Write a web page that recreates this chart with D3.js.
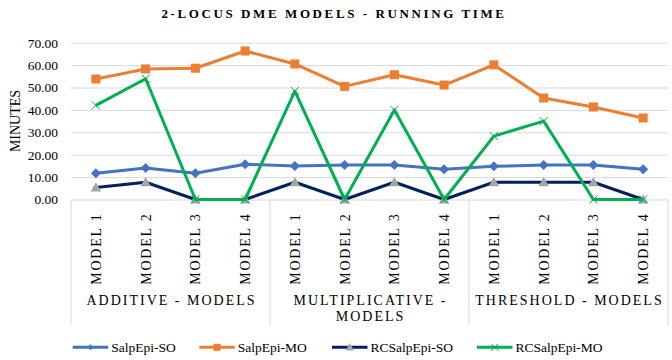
<!DOCTYPE html>
<html>
<head>
<meta charset="utf-8">
<script src="https://cdn.jsdelivr.net/npm/d3@7"></script>
<style>
  html, body { margin: 0; padding: 0; background: #fff; }
  svg { display: block; }
  text { font-family: "Liberation Serif", "Times New Roman", serif; fill: #000; }
</style>
</head>
<body>
<svg id="chart" width="672" height="360"></svg>
<script>
const categories = ["MODEL 1","MODEL 2","MODEL 3","MODEL 4","MODEL 1","MODEL 2","MODEL 3","MODEL 4","MODEL 1","MODEL 2","MODEL 3","MODEL 4"];
const groups = [["ADDITIVE - MODELS"], ["MULTIPLICATIVE -", "MODELS"], ["THRESHOLD - MODELS"]];
const seriesNames = ["SalpEpi-SO", "SalpEpi-MO", "RCSalpEpi-SO", "RCSalpEpi-MO"];
const salpEpiSO   = [11.7, 14.1, 11.7, 15.7, 15.0, 15.4, 15.4, 13.5, 14.8, 15.4, 15.4, 13.5];
const salpEpiMO   = [53.8, 58.3, 58.6, 66.3, 60.5, 50.5, 55.7, 51.1, 60.1, 45.3, 41.3, 36.4];
const rcSalpEpiSO = [5.4, 7.7, 0, 0, 7.7, 0, 7.7, 0, 7.7, 7.7, 7.7, 0];
const rcSalpEpiMO = [42.0, 53.9, 0, 0, 48.4, 0, 40.0, 0, 28.3, 35.0, 0, 0];
const yTicks = [0, 10, 20, 30, 40, 50, 60, 70];
const title = "2-LOCUS DME MODELS - RUNNING TIME";
const yTitle = "MINUTES";

const series = [
  {name: seriesNames[0], values: salpEpiSO,   line: "#4472C4", marker: "diamond",  fill: "#4472C4"},
  {name: seriesNames[1], values: salpEpiMO,   line: "#ED7D31", marker: "square",   fill: "#ED7D31"},
  {name: seriesNames[2], values: rcSalpEpiSO, line: "#002060", marker: "triangle", fill: "#A5A5A5"},
  {name: seriesNames[3], values: rcSalpEpiMO, line: "#00B050", marker: "x",        fill: "#00B050"}
];

const svg = d3.select("#chart");
const L = 71, R = 668, T = 42.7, B = 199.5;

const x = d3.scaleBand().domain(d3.range(categories.length)).range([L, R]);
const y = d3.scaleLinear().domain([0, 70]).range([B, T]);

// title
svg.append("text").attr("x", 334).attr("y", 18).attr("text-anchor", "middle")
  .style("font-size", "13px").style("font-weight", "bold").style("letter-spacing", "2.6px")
  .text(title);

// y axis with gridlines
const yAxis = svg.append("g").attr("transform", `translate(${L},0)`)
  .call(d3.axisLeft(y).tickValues(yTicks).tickFormat(d3.format(".2f"))
    .tickSize(-(R - L)).tickPadding(13));
yAxis.select(".domain").remove();
yAxis.selectAll(".tick line").attr("stroke", "#d9d9d9").attr("stroke-width", 1);
yAxis.selectAll(".tick text").style("font-size", "13.5px").style("font-family", "'Liberation Serif', serif");

// y title
svg.append("text").attr("transform", "translate(20,121) rotate(-90)").attr("text-anchor", "middle")
  .style("font-size", "14px").text(yTitle);

// group separators
const nGroup = 4;
const seps = d3.range(groups.length + 1).map(i => i < groups.length ? x(i * nGroup) : R);
svg.selectAll("line.sep").data(seps).join("line").attr("class", "sep")
  .attr("x1", d => d).attr("x2", d => d).attr("y1", B).attr("y2", 325.5)
  .attr("stroke", "#d9d9d9").attr("stroke-width", 1);

// x axis category labels
const xAxis = svg.append("g").attr("transform", `translate(0,${B})`)
  .call(d3.axisBottom(x).tickSize(0).tickFormat(i => categories[i]));
xAxis.select(".domain").remove();
xAxis.selectAll(".tick text")
  .attr("transform", "rotate(-90)")
  .attr("x", -13).attr("y", 0).attr("dy", "0.35em")
  .attr("text-anchor", "end")
  .style("font-size", "14px").style("letter-spacing", "1.8px")
  .style("font-family", "'Liberation Serif', serif");

// group labels
groups.forEach((g, i) => {
  const cx = (seps[i] + seps[i + 1]) / 2;
  g.forEach((line, j) => {
    svg.append("text").attr("x", cx + 1).attr("y", 305 + j * 16).attr("text-anchor", "middle")
      .style("font-size", "14px").style("letter-spacing", "2px").text(line);
  });
});

// lines and markers
const lineGen = d3.line().x((d, i) => x(i) + x.bandwidth() / 2).y(d => y(d));

function drawMarker(g, type, cx, cy, s, color) {
  if (type === "diamond") {
    g.append("path").attr("d", `M${cx},${cy - s}L${cx + s},${cy}L${cx},${cy + s}L${cx - s},${cy}Z`).attr("fill", color);
  } else if (type === "square") {
    g.append("rect").attr("x", cx - s).attr("y", cy - s).attr("width", 2 * s).attr("height", 2 * s).attr("fill", color);
  } else if (type === "triangle") {
    g.append("path").attr("d", `M${cx},${cy - s * 1.05}L${cx + s * 1.05},${cy + s * 0.8}L${cx - s * 1.05},${cy + s * 0.8}Z`).attr("fill", color);
  } else if (type === "x") {
    g.append("path").attr("d", `M${cx - s},${cy - s}L${cx + s},${cy + s}M${cx - s},${cy + s}L${cx + s},${cy - s}`)
      .attr("stroke", color).attr("stroke-width", 1).attr("fill", "none");
  }
}

const plot = svg.append("g");
series.forEach(s => {
  const g = plot.append("g");
  g.append("path").datum(s.values).attr("d", lineGen).attr("fill", "none")
    .attr("stroke", s.line).attr("stroke-width", 3).attr("stroke-linejoin", "round");
  const size = s.marker === "square" ? 4.5 : (s.marker === "diamond" ? 5 : (s.marker === "triangle" ? 5 : 4));
  s.values.forEach((v, i) => drawMarker(g, s.marker, x(i) + x.bandwidth() / 2, y(v), size, s.fill));
});

// legend
const legendX = [72.7, 199.3, 332, 477];
series.forEach((s, i) => {
  const g = svg.append("g");
  const x0 = legendX[i], ly = 347.3;
  g.append("line").attr("x1", x0).attr("x2", x0 + 35.5).attr("y1", ly).attr("y2", ly)
    .attr("stroke", s.line).attr("stroke-width", 3);
  const size = s.marker === "square" ? 3.5 : (s.marker === "diamond" ? 3 : (s.marker === "triangle" ? 4 : 3.5));
  drawMarker(g, s.marker, x0 + 17.8, ly, size, s.fill);
  g.append("text").attr("x", x0 + 38.5).attr("y", ly).attr("dy", "0.35em")
    .style("font-size", "13.5px").text(s.name);
});
</script>
</body>
</html>
